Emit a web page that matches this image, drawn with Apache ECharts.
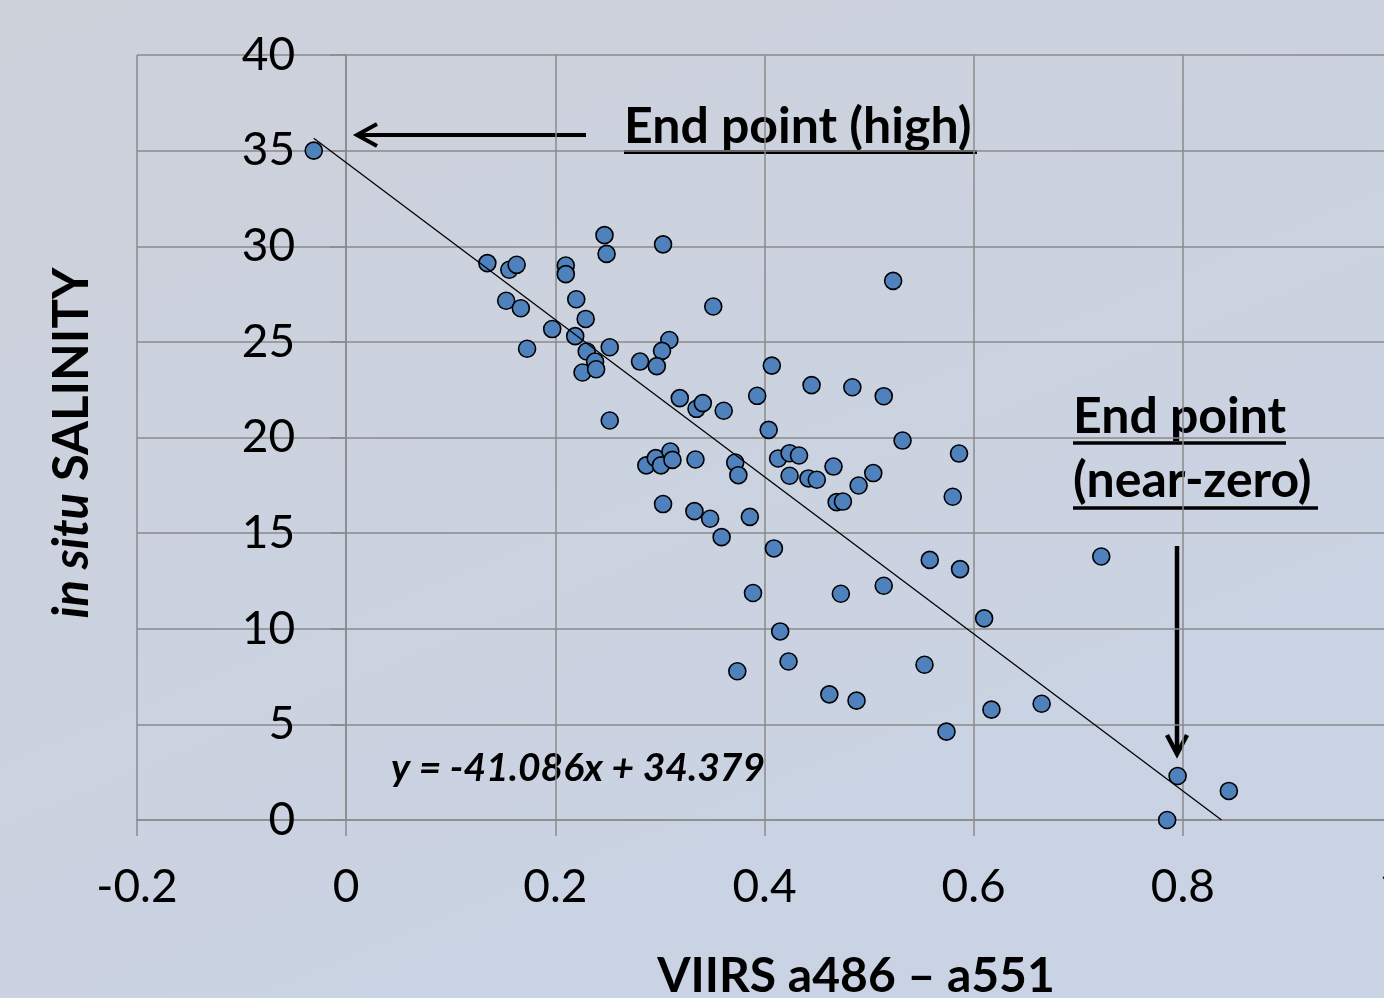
<!DOCTYPE html>
<html>
<head>
<meta charset="utf-8">
<script src="https://cdn.jsdelivr.net/npm/echarts@6/dist/echarts.min.js"></script>
<style>
html, body { margin: 0; padding: 0; }
#chart { width: 1384px; height: 998px; }
</style>
</head>
<body>
<div id="chart"></div>
<script>
// VIIRS a486 - a551 (x) against in situ salinity (y)
var viirsDiff = [
  -0.031, 0.135, 0.156, 0.163, 0.210, 0.210, 0.247, 0.249, 0.303, 0.523,
  0.153, 0.167, 0.220, 0.229, 0.197, 0.219, 0.351, 0.309, 0.252, 0.173,
  0.230, 0.238, 0.226, 0.239, 0.302, 0.281, 0.297, 0.252, 0.319, 0.335,
  0.341, 0.361, 0.393, 0.407, 0.445, 0.484, 0.514, 0.532, 0.404, 0.287,
  0.296, 0.301, 0.310, 0.312, 0.334, 0.372, 0.375, 0.413, 0.424, 0.433,
  0.424, 0.442, 0.450, 0.466, 0.504, 0.490, 0.469, 0.475, 0.303, 0.333,
  0.348, 0.386, 0.359, 0.409, 0.389, 0.473, 0.514, 0.415, 0.423, 0.374,
  0.553, 0.462, 0.488, 0.586, 0.580, 0.558, 0.587, 0.722, 0.610, 0.574,
  0.617, 0.665, 0.795, 0.844, 0.785
];
var salinity = [
  35.0, 29.12, 28.77, 29.03, 28.99, 28.54, 30.58, 29.6, 30.1, 28.19,
  27.15, 26.76, 27.23, 26.2, 25.67, 25.3, 26.85, 25.1, 24.72, 24.64,
  24.5, 23.97, 23.4, 23.57, 24.53, 23.97, 23.73, 20.89, 22.06, 21.5,
  21.8, 21.4, 22.18, 23.76, 22.74, 22.63, 22.16, 19.84, 20.4, 18.54,
  18.92, 18.54, 19.27, 18.83, 18.85, 18.69, 18.03, 18.9, 19.18, 19.06,
  18.0, 17.86, 17.79, 18.48, 18.14, 17.49, 16.62, 16.65, 16.52, 16.15,
  15.75, 15.85, 14.79, 14.2, 11.87, 11.83, 12.25, 9.86, 8.29, 7.78,
  8.12, 6.57, 6.24, 19.16, 16.9, 13.6, 13.12, 13.78, 10.54, 4.62,
  5.77, 6.08, 2.3, 1.52, 0.0
];
// linear trend line end points (y = -41.086x + 34.379)
var trendX = [-0.031, 0.837];
var trendY = [35.65, 0];

var xMin = -0.2, xMax = 1.0, xStep = 0.2;
var yMin = 0, yMax = 40, yStep = 5;

var points = viirsDiff.map(function (x, i) { return [x, salinity[i]]; });
var trend = trendX.map(function (x, i) { return [x, trendY[i]]; });

var gridColor = '#8a8a8a';
var font = 'Lato, "Open Sans", sans-serif';
var plotLeft = 137, plotWidth = 1255;
// y axis sits where x = 0
var yAxisShift = plotWidth * (0 - xMin) / (xMax - xMin);

var myChart = echarts.init(document.getElementById('chart'));
var option = {
  backgroundColor: {
    type: 'linear', x: 0, y: 0, x2: 0.3, y2: 1,
    colorStops: [
      { offset: 0, color: '#cdd1da' },
      { offset: 1, color: '#cad3e3' }
    ]
  },
  animation: false,
  grid: { left: plotLeft, top: 55, width: plotWidth, height: 765, containLabel: false, outerBoundsMode: 'none' },
  xAxis: {
    type: 'value',
    min: xMin, max: xMax, interval: xStep,
    axisLine: { show: true, onZero: false, lineStyle: { color: gridColor, width: 1.5 } },
    axisTick: { show: true, length: 16, lineStyle: { color: gridColor, width: 1.5 } },
    splitLine: { show: true, lineStyle: { color: gridColor, width: 1.5 } },
    axisLabel: { color: '#000', fontSize: 46, fontFamily: font, margin: 44 }
  },
  yAxis: {
    type: 'value',
    min: yMin, max: yMax, interval: yStep,
    offset: -yAxisShift,
    axisLine: { show: true, onZero: false, lineStyle: { color: gridColor, width: 1.5 } },
    axisTick: { show: true, length: 16, lineStyle: { color: gridColor, width: 1.5 } },
    splitLine: { show: true, lineStyle: { color: gridColor, width: 1.5 } },
    axisLabel: { color: '#000', fontSize: 46, fontFamily: font, margin: 51 }
  },
  series: [
    {
      name: 'samples',
      type: 'scatter',
      data: points,
      symbol: 'circle',
      symbolSize: 17,
      itemStyle: { color: '#4f81bd', borderColor: '#000', borderWidth: 1.6, opacity: 1 },
      z: 2
    },
    {
      name: 'trend',
      type: 'line',
      data: trend,
      symbol: 'none',
      lineStyle: { color: '#000', width: 1.3 },
      z: 3
    }
  ],
  graphic: [
    {
      type: 'text', x: 72, y: 443, rotation: Math.PI / 2,
      style: {
        text: '{i|in situ} SALINITY',
        font: 'bold 49px ' + font, fill: '#000',
        textAlign: 'center', textVerticalAlign: 'middle',
        rich: { i: { fontStyle: 'italic', fontWeight: 'bold', fontSize: 49, fontFamily: font } }
      }
    },
    {
      type: 'text', x: 856, y: 977,
      style: { text: 'VIIRS a486 \u2013 a551', font: 'bold 48px ' + font, fill: '#000', textAlign: 'center', textVerticalAlign: 'middle' }
    },
    {
      type: 'text', x: 624, y: 127,
      style: { text: 'End point (high)', font: 'bold 50px ' + font, fill: '#000', textAlign: 'left', textVerticalAlign: 'middle' }
    },
    { type: 'line', shape: { x1: 624, y1: 152, x2: 977, y2: 152 }, style: { stroke: '#000', lineWidth: 4 } },
    { type: 'line', shape: { x1: 586, y1: 135, x2: 358, y2: 135 }, style: { stroke: '#000', lineWidth: 4 } },
    { type: 'polyline', shape: { points: [[377, 124], [357, 135], [377, 146]] }, style: { stroke: '#000', lineWidth: 4, fill: null } },
    {
      type: 'text', x: 1073, y: 417,
      style: { text: 'End point', font: 'bold 50px ' + font, fill: '#000', textAlign: 'left', textVerticalAlign: 'middle' }
    },
    { type: 'line', shape: { x1: 1073, y1: 443, x2: 1286, y2: 443 }, style: { stroke: '#000', lineWidth: 3.5 } },
    {
      type: 'text', x: 1073, y: 481,
      style: { text: '(near-zero)', font: 'bold 50px ' + font, fill: '#000', textAlign: 'left', textVerticalAlign: 'middle' }
    },
    { type: 'line', shape: { x1: 1073, y1: 508, x2: 1318, y2: 508 }, style: { stroke: '#000', lineWidth: 3.5 } },
    { type: 'line', shape: { x1: 1177, y1: 546, x2: 1177, y2: 752 }, style: { stroke: '#000', lineWidth: 4.5 } },
    { type: 'polyline', shape: { points: [[1167, 735], [1177, 754], [1187, 735]] }, style: { stroke: '#000', lineWidth: 4.5, fill: null } },
    {
      type: 'text', x: 391, y: 768,
      style: { text: 'y = -41.086x + 34.379', font: 'italic bold 39px ' + font, fill: '#000', textAlign: 'left', textVerticalAlign: 'middle' }
    }
  ]
};
myChart.setOption(option);
</script>
</body>
</html>
